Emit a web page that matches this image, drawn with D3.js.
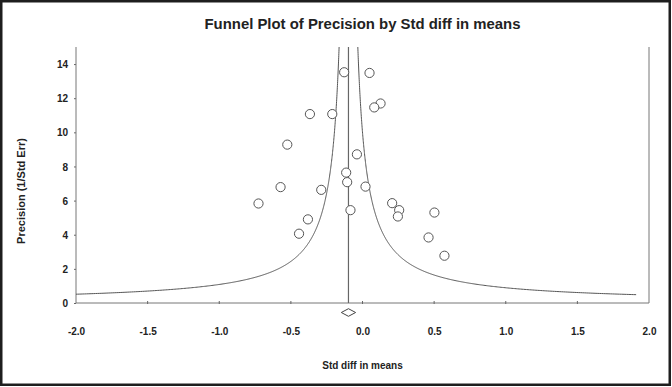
<!DOCTYPE html>
<html>
<head>
<meta charset="utf-8">
<script src="https://cdn.jsdelivr.net/npm/d3@7"></script>
<style>
  body { margin: 0; background: #fff; }
  #chart-area { width: 672px; height: 387px; }
  text { font-family: "Liberation Sans", Arial, sans-serif; font-weight: bold; fill: #222; }
</style>
</head>
<body>
<div id="chart-area"></div>
<script>

// study effects (std diff in means) and their precision (1/Std Err)
let stdDiffs = [-0.128, 0.049, 0.126, 0.082, -0.367, -0.211, -0.525, -0.039, -0.114, -0.107,
	-0.572, -0.288, 0.021, -0.726, 0.207, 0.256, 0.247, 0.502, -0.084, -0.381, -0.443, 0.461, 0.572];
let precisions = [13.52, 13.48, 11.69, 11.46, 11.07, 11.07, 9.28, 8.71, 7.64, 7.08,
	6.79, 6.63, 6.82, 5.83, 5.85, 5.44, 5.07, 5.30, 5.44, 4.90, 4.06, 3.84, 2.77];

// combined estimate and its interval (diamond)
let meanEffect = -0.098;
let meanLower = -0.148;
let meanUpper = -0.048;

// funnel limits: mean +/- funnelWidth / precision
let funnelWidth = 0.98;
let funnelPrecisionRange = [0.488, 15];

let xTicks = [-2.0, -1.5, -1.0, -0.5, 0.0, 0.5, 1.0, 1.5, 2.0];
let yTicks = [0, 2, 4, 6, 8, 10, 12, 14];

class FunnelPlot {

	constructor(parentElement) {
		this.parentElement = parentElement;
		this.data = stdDiffs.map((d, i) => ({ effect: d, precision: precisions[i] }));
		this.initVis();
	}

	initVis() {
		let vis = this;

		vis.margin = {top: 47, right: 23, bottom: 84, left: 76};
		vis.width = 672 - vis.margin.left - vis.margin.right;
		vis.height = 387 - vis.margin.top - vis.margin.bottom;

		let root = d3.select("#" + vis.parentElement).append("svg")
			.attr("width", 672)
			.attr("height", 387);

		// outer frame
		root.append("rect")
			.attr("x", 1.25).attr("y", 1.25)
			.attr("width", 672 - 3.5).attr("height", 387 - 3.5)
			.attr("fill", "none")
			.attr("stroke", "#1e1e1e")
			.attr("stroke-width", 2.5);

		root.append("text")
			.attr("x", vis.margin.left + vis.width / 2)
			.attr("y", 29)
			.attr("text-anchor", "middle")
			.attr("font-size", "14px")
			.attr("textLength", 316)
			.attr("lengthAdjust", "spacingAndGlyphs")
			.text("Funnel Plot of Precision by Std diff in means");

		vis.svg = root.append("g")
			.attr("transform", "translate(" + vis.margin.left + "," + vis.margin.top + ")");

		vis.svg.append("defs").append("clipPath")
			.attr("id", "clip")
			.append("rect")
			.attr("width", vis.width)
			.attr("height", vis.height);

		vis.x = d3.scaleLinear()
			.domain([-2, 2])
			.range([0, vis.width]);

		vis.y = d3.scaleLinear()
			.domain([0, 15])
			.range([vis.height, 0]);

		// plain hyphen for negatives, like the original
		vis.xAxis = d3.axisBottom(vis.x)
			.tickValues(xTicks)
			.tickSize(0)
			.tickPadding(25)
			.tickFormat(d => d.toFixed(1));

		vis.yAxis = d3.axisLeft(vis.y)
			.tickValues(yTicks)
			.tickSize(2)
			.tickPadding(6);

		vis.updateVis();
	}

	updateVis() {
		let vis = this;

		// axes
		let xg = vis.svg.append("g")
			.attr("class", "x-axis axis")
			.attr("transform", "translate(0," + vis.height + ")")
			.call(vis.xAxis);
		xg.select(".domain").remove();
		xg.selectAll("text").attr("font-size", "10px").attr("fill", "#222");

		let yg = vis.svg.append("g")
			.attr("class", "y-axis axis")
			.call(vis.yAxis);
		yg.select(".domain").remove();
		yg.selectAll("line").attr("stroke", "#666");
		yg.selectAll("text").attr("font-size", "10px").attr("fill", "#222").attr("dy", "0.36em");

		// frame: left, bottom, right
		vis.svg.append("path")
			.attr("d", "M0,0V" + vis.height + "H" + vis.width + "V0")
			.attr("fill", "none")
			.attr("stroke", "#777")
			.attr("stroke-width", 1);

		// small ticks up from the bottom line
		vis.svg.selectAll(".xtick")
			.data(xTicks.slice(1, -1))
			.enter().append("line")
			.attr("class", "xtick")
			.attr("x1", d => vis.x(d)).attr("x2", d => vis.x(d))
			.attr("y1", vis.height - 2).attr("y2", vis.height + 1)
			.attr("stroke", "#666");

		// funnel limits
		let steps = d3.range(0, 401).map(i => {
			let t = i / 400;
			return funnelPrecisionRange[0] * Math.pow(funnelPrecisionRange[1] / funnelPrecisionRange[0], t);
		});
		let line = d3.line()
			.x(d => vis.x(d[0]))
			.y(d => vis.y(d[1]));

		let sides = [-1, 1].map(s => steps.map(p => [meanEffect + s * funnelWidth / p, p]));
		vis.svg.selectAll(".funnel")
			.data(sides)
			.enter().append("path")
			.attr("class", "funnel")
			.attr("clip-path", "url(#clip)")
			.attr("d", line)
			.attr("fill", "none")
			.attr("stroke", "#555")
			.attr("stroke-width", 1);

		// mean line
		vis.svg.append("line")
			.attr("x1", vis.x(meanEffect)).attr("x2", vis.x(meanEffect))
			.attr("y1", 0).attr("y2", vis.height)
			.attr("stroke", "#666")
			.attr("stroke-width", 1.2);

		// studies
		vis.svg.selectAll(".study")
			.data(vis.data)
			.enter().append("circle")
			.attr("class", "study")
			.attr("cx", d => vis.x(d.effect))
			.attr("cy", d => vis.y(d.precision))
			.attr("r", 4.6)
			.attr("fill", "#fff")
			.attr("stroke", "#555")
			.attr("stroke-width", 1);

		// combined diamond
		let dy = vis.height + 9.5;
		let dh = 3.8;
		vis.svg.append("path")
			.attr("d", "M" + vis.x(meanLower) + "," + dy
				+ "L" + vis.x(meanEffect) + "," + (dy - dh)
				+ "L" + vis.x(meanUpper) + "," + dy
				+ "L" + vis.x(meanEffect) + "," + (dy + dh) + "Z")
			.attr("fill", "#fff")
			.attr("stroke", "#444")
			.attr("stroke-width", 1);

		// axis titles
		vis.svg.append("text")
			.attr("x", vis.width / 2)
			.attr("y", 369 - vis.margin.top)
			.attr("text-anchor", "middle")
			.attr("font-size", "10px")
			.text("Std diff in means");

		vis.svg.append("text")
			.attr("text-anchor", "middle")
			.attr("transform", "translate(" + (25 - vis.margin.left) + "," + (191 - vis.margin.top) + ") rotate(-90)")
			.attr("font-size", "11px")
			.text("Precision (1/Std Err)");
	}
}

new FunnelPlot("chart-area");
</script>
</body>
</html>
